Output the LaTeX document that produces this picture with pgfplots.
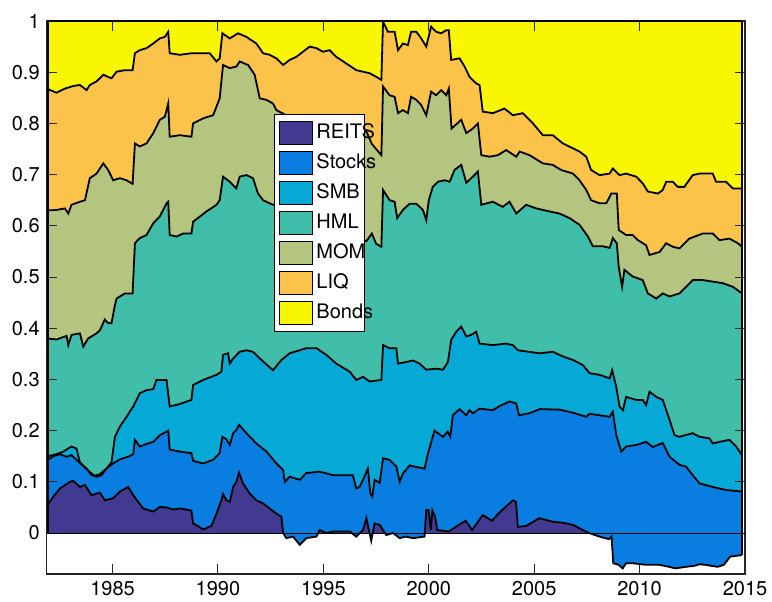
\documentclass[border=0pt]{standalone}
\usepackage{pgfplots}
\pgfplotsset{compat=1.18}
\usepgfplotslibrary{fillbetween}
\usepackage{fontspec}
\setmainfont{TeX Gyre Heros}
\definecolor{cReits}{HTML}{423A91}
\definecolor{cStocks}{HTML}{0A7EE0}
\definecolor{cSMB}{HTML}{06A9D5}
\definecolor{cHML}{HTML}{40BEA9}
\definecolor{cMOM}{HTML}{B3C57E}
\definecolor{cLIQ}{HTML}{FBC34A}
\definecolor{cBonds}{HTML}{F8F600}
\pgfplotsset{
  layers/mylayers/.define layer set={axis background,axis grid,axis ticks,axis tick labels,pre main,main,axis lines,axis descriptions,axis foreground}{},
}
\begin{document}
\begin{tikzpicture}
\begin{axis}[
  name=ax, set layers=mylayers,
  scale only axis, width=349.15pt, height=276.5pt,
  xmin=1981.875, xmax=2015, ymin=-0.08, ymax=1,
  xtick={1985,1990,1995,2000,2005,2010,2015},
  ytick={0,0.1,0.2,0.3,0.4,0.5,0.6,0.7,0.8,0.9,1},
  /pgf/number format/1000 sep={},
  /pgf/number format/assume math mode=true,
  tick label style={font=\fontsize{10}{12}\selectfont, black},
  tick align=inside, major tick length=5pt,
  tick style={black!85, line width=0.5pt},
  axis line style={black!85, line width=0.6pt},
  legend style={at={(0.3255,0.8318)}, anchor=north west, draw=black, line width=0.5pt, fill=white,
    font=\fontsize{10}{12}\selectfont, inner sep=2.5pt, row sep=1.5pt,
    nodes={inner sep=1.5pt, text height=8pt, text depth=2.5pt}},
  legend cell align=left,
  legend image code/.code={\draw[#1, draw=black, line width=0.5pt] (0pt,-5.75pt) rectangle (16.5pt,5.75pt);},
  every axis plot/.append style={forget plot},
]
\addplot[name path=c0, draw=none] coordinates {(1981.92,0) (2014.86,0)};
% REITS top
\addplot[name path=c1, black, line width=0.9pt] coordinates {
(1981.92,0.055) (1982.19,0.071) (1982.50,0.087) (1982.98,0.100) (1983.13,0.102) (1983.45,0.090) (1983.69,0.094) (1984.00,0.074) (1984.40,0.079) (1984.63,0.064) (1985.03,0.068) (1985.35,0.081) (1985.74,0.090) (1985.98,0.074) (1986.45,0.048) (1986.93,0.042) (1987.24,0.051) (1987.56,0.050) (1987.87,0.046) (1988.19,0.048) (1988.74,0.044) (1988.82,0.019) (1989.30,0.007) (1989.69,0.014) (1989.93,0.038) (1990.16,0.064) (1990.24,0.076) (1990.40,0.064) (1990.56,0.061) (1990.72,0.090) (1990.87,0.100) (1991.00,0.118) (1991.19,0.097) (1991.51,0.077) (1991.82,0.064) (1992.14,0.058) (1992.45,0.048) (1992.77,0.038) (1993.01,0.032) (1993.09,0.000) (1993.24,-0.010) (1993.56,-0.007) (1993.88,-0.023) (1994.19,-0.010) (1994.67,-0.007) (1994.82,0.006) (1995.14,0.000) (1995.46,0.003) (1996.25,0.003) (1996.56,-0.007) (1996.88,0.006) (1997.04,0.029) (1997.19,0.000) (1997.27,-0.015) (1997.43,0.019) (1997.67,0.016) (1997.98,-0.004) (1998.30,0.000) (1998.62,-0.010) (1998.90,-0.007) (1999.25,-0.010) (1999.80,-0.007) (1999.88,0.045) (1999.99,0.045) (2000.10,0.006) (2000.17,0.044) (2000.30,0.032) (2000.40,0.006) (2000.95,0.003) (2001.43,0.016) (2001.75,0.024) (2002.06,0.006) (2002.38,0.025) (2002.56,0.035) (2003.00,0.024) (2003.30,0.038) (2003.75,0.055) (2004.00,0.064) (2004.14,0.061) (2004.22,0.012) (2004.62,0.014) (2005.24,0.029) (2005.90,0.022) (2006.37,0.020) (2006.84,0.016) (2007.30,0.006) (2007.60,0.000) (2008.10,-0.007) (2008.55,-0.012) (2008.67,-0.007) (2008.75,-0.059) (2009.00,-0.062) (2009.20,-0.069) (2009.36,-0.059) (2009.67,-0.059) (2010.30,-0.062) (2010.93,-0.062) (2011.40,-0.066) (2011.70,-0.069) (2012.20,-0.066) (2012.60,-0.064) (2012.84,-0.061) (2013.10,-0.062) (2013.40,-0.064) (2013.70,-0.066) (2014.00,-0.062) (2014.30,-0.046) (2014.86,-0.043)};
% Stocks top
\addplot[name path=c2, black, line width=0.9pt] coordinates {
(1981.92,0.143) (1982.19,0.150) (1982.50,0.154) (1982.82,0.149) (1983.05,0.152) (1983.45,0.137) (1983.77,0.126) (1984.00,0.113) (1984.24,0.110) (1984.48,0.113) (1984.71,0.126) (1985.03,0.136) (1985.35,0.144) (1985.74,0.149) (1985.98,0.154) (1986.06,0.182) (1986.29,0.169) (1986.61,0.174) (1986.93,0.178) (1987.24,0.191) (1987.56,0.198) (1987.64,0.200) (1987.71,0.163) (1988.19,0.159) (1988.74,0.156) (1988.82,0.141) (1989.30,0.136) (1989.77,0.143) (1990.08,0.156) (1990.21,0.188) (1990.40,0.183) (1990.56,0.172) (1990.72,0.195) (1990.87,0.201) (1991.00,0.211) (1991.35,0.195) (1991.82,0.175) (1992.30,0.159) (1992.77,0.136) (1993.09,0.123) (1993.17,0.100) (1993.40,0.110) (1993.88,0.104) (1994.19,0.117) (1994.82,0.120) (1995.46,0.113) (1996.40,0.113) (1996.56,0.087) (1996.72,0.090) (1996.88,0.104) (1997.11,0.126) (1997.23,0.077) (1997.32,0.071) (1997.43,0.104) (1997.67,0.098) (1997.83,0.146) (1998.14,0.143) (1998.30,0.136) (1998.46,0.130) (1998.62,0.100) (1998.77,0.116) (1999.09,0.132) (1999.41,0.129) (1999.80,0.126) (1999.96,0.155) (2000.27,0.200) (2000.67,0.188) (2000.90,0.198) (2001.02,0.188) (2001.14,0.230) (2001.46,0.242) (2001.78,0.230) (2001.93,0.240) (2002.09,0.234) (2002.41,0.243) (2003.04,0.240) (2003.36,0.248) (2003.83,0.257) (2004.15,0.253) (2004.28,0.230) (2004.78,0.234) (2005.26,0.242) (2006.20,0.241) (2006.84,0.235) (2007.47,0.227) (2007.63,0.233) (2008.10,0.230) (2008.58,0.227) (2008.73,0.237) (2008.89,0.192) (2009.13,0.159) (2009.36,0.169) (2009.84,0.172) (2010.31,0.178) (2010.63,0.168) (2011.10,0.176) (2011.42,0.149) (2011.90,0.133) (2012.20,0.130) (2012.52,0.113) (2012.84,0.097) (2013.47,0.090) (2014.10,0.084) (2014.86,0.081)};
% SMB top
\addplot[name path=c3, black, line width=0.9pt] coordinates {
(1981.92,0.150) (1982.34,0.154) (1982.66,0.159) (1983.05,0.169) (1983.29,0.165) (1983.45,0.138) (1983.69,0.128) (1983.92,0.119) (1984.16,0.112) (1984.40,0.115) (1984.71,0.126) (1984.95,0.138) (1985.11,0.188) (1985.35,0.208) (1985.66,0.227) (1985.98,0.247) (1986.29,0.273) (1986.61,0.279) (1986.93,0.281) (1987.08,0.299) (1987.56,0.299) (1987.71,0.247) (1988.19,0.252) (1988.74,0.260) (1988.82,0.289) (1989.30,0.299) (1989.93,0.309) (1990.16,0.315) (1990.24,0.348) (1990.48,0.351) (1990.56,0.331) (1990.72,0.341) (1991.03,0.354) (1991.35,0.357) (1991.66,0.354) (1992.14,0.335) (1992.61,0.318) (1993.01,0.338) (1993.40,0.351) (1994.19,0.361) (1994.67,0.361) (1995.14,0.348) (1995.61,0.331) (1996.25,0.315) (1996.56,0.299) (1996.88,0.305) (1997.19,0.296) (1997.75,0.299) (1997.83,0.367) (1998.14,0.361) (1998.46,0.361) (1998.54,0.331) (1998.93,0.334) (1999.25,0.337) (1999.56,0.331) (1999.88,0.319) (2000.35,0.321) (2000.67,0.319) (2000.91,0.334) (2001.06,0.377) (2001.30,0.393) (2001.54,0.403) (2001.78,0.384) (2002.01,0.387) (2002.25,0.393) (2002.41,0.370) (2003.04,0.367) (2003.67,0.370) (2003.99,0.367) (2004.22,0.357) (2005.25,0.351) (2005.88,0.354) (2006.36,0.345) (2006.84,0.338) (2007.31,0.328) (2007.63,0.312) (2008.10,0.309) (2008.58,0.302) (2008.70,0.318) (2008.89,0.286) (2009.05,0.247) (2009.21,0.240) (2009.36,0.266) (2009.84,0.260) (2010.15,0.260) (2010.31,0.250) (2010.47,0.276) (2010.79,0.266) (2011.10,0.260) (2011.42,0.221) (2011.66,0.191) (2011.89,0.188) (2012.52,0.195) (2012.84,0.188) (2013.31,0.185) (2013.47,0.175) (2013.79,0.178) (2014.26,0.182) (2014.58,0.169) (2014.86,0.152)};
% HML top
\addplot[name path=c4, black, line width=0.9pt] coordinates {
(1981.92,0.380) (1982.34,0.378) (1982.82,0.385) (1982.90,0.367) (1983.05,0.387) (1983.45,0.390) (1983.61,0.364) (1983.84,0.380) (1984.24,0.390) (1984.40,0.396) (1984.63,0.417) (1984.79,0.410) (1984.95,0.410) (1985.11,0.445) (1985.19,0.458) (1985.58,0.468) (1985.95,0.468) (1986.06,0.566) (1986.29,0.576) (1986.61,0.582) (1986.93,0.605) (1987.24,0.618) (1987.56,0.644) (1987.64,0.647) (1987.71,0.582) (1988.03,0.579) (1988.35,0.585) (1988.74,0.585) (1988.82,0.608) (1989.14,0.618) (1989.45,0.628) (1989.93,0.641) (1990.08,0.650) (1990.24,0.696) (1990.56,0.686) (1990.87,0.673) (1991.03,0.696) (1991.35,0.699) (1991.66,0.693) (1991.90,0.663) (1992.14,0.650) (1992.45,0.644) (1993.00,0.635) (1994.00,0.620) (1995.00,0.600) (1996.00,0.580) (1996.70,0.575) (1997.04,0.570) (1997.30,0.585) (1997.50,0.565) (1997.75,0.559) (1997.83,0.670) (1998.14,0.650) (1998.38,0.647) (1998.50,0.615) (1998.77,0.631) (1999.09,0.643) (1999.41,0.643) (1999.72,0.631) (1999.88,0.611) (2000.00,0.650) (2000.19,0.676) (2000.43,0.686) (2000.75,0.689) (2000.99,0.686) (2001.22,0.709) (2001.54,0.719) (2001.78,0.684) (2002.09,0.696) (2002.33,0.706) (2002.49,0.641) (2003.04,0.647) (2003.51,0.637) (2003.83,0.647) (2004.15,0.624) (2004.62,0.641) (2005.10,0.634) (2005.73,0.628) (2006.20,0.624) (2006.68,0.615) (2007.15,0.602) (2007.55,0.579) (2007.78,0.560) (2008.26,0.560) (2008.58,0.557) (2008.73,0.576) (2008.92,0.566) (2009.01,0.520) (2009.17,0.481) (2009.28,0.514) (2009.67,0.501) (2010.15,0.494) (2010.39,0.468) (2010.79,0.458) (2011.10,0.468) (2011.42,0.462) (2011.89,0.468) (2012.52,0.494) (2013.00,0.494) (2013.47,0.491) (2013.94,0.488) (2014.42,0.481) (2014.86,0.468)};
% MOM top
\addplot[name path=c5, black, line width=0.9pt] coordinates {
(1981.92,0.630) (1982.34,0.631) (1982.74,0.634) (1982.90,0.624) (1983.05,0.641) (1983.45,0.647) (1983.69,0.650) (1983.92,0.693) (1984.24,0.702) (1984.56,0.722) (1984.79,0.709) (1985.03,0.689) (1985.35,0.693) (1985.66,0.689) (1985.95,0.682) (1986.06,0.761) (1986.29,0.755) (1986.61,0.761) (1986.93,0.781) (1987.24,0.807) (1987.48,0.813) (1987.64,0.839) (1987.71,0.774) (1988.19,0.777) (1988.74,0.774) (1988.82,0.800) (1989.30,0.810) (1989.77,0.816) (1990.08,0.849) (1990.24,0.914) (1990.56,0.908) (1990.87,0.911) (1991.03,0.921) (1991.43,0.914) (1991.74,0.895) (1991.98,0.849) (1992.30,0.846) (1992.61,0.839) (1992.77,0.826) (1993.50,0.810) (1994.50,0.800) (1995.50,0.790) (1996.50,0.780) (1997.04,0.784) (1997.30,0.760) (1997.50,0.750) (1997.75,0.738) (1997.83,0.872) (1998.14,0.855) (1998.38,0.852) (1998.54,0.820) (1998.77,0.826) (1999.01,0.820) (1999.16,0.852) (1999.41,0.846) (1999.64,0.836) (1999.88,0.816) (2000.11,0.862) (2000.35,0.855) (2000.59,0.865) (2000.83,0.855) (2000.95,0.868) (2001.08,0.790) (2001.54,0.807) (2001.78,0.781) (2002.09,0.790) (2002.33,0.800) (2002.49,0.738) (2002.88,0.735) (2003.28,0.738) (2003.67,0.748) (2004.15,0.735) (2004.31,0.745) (2004.78,0.738) (2005.41,0.722) (2005.88,0.719) (2006.28,0.709) (2006.84,0.702) (2007.15,0.689) (2007.47,0.670) (2007.70,0.650) (2008.10,0.644) (2008.42,0.644) (2008.66,0.663) (2008.92,0.663) (2009.01,0.592) (2009.36,0.582) (2009.67,0.582) (2009.92,0.572) (2010.31,0.562) (2010.47,0.543) (2010.95,0.549) (2011.26,0.566) (2011.58,0.559) (2011.89,0.556) (2012.36,0.575) (2013.00,0.585) (2013.47,0.585) (2013.79,0.572) (2014.26,0.575) (2014.66,0.566) (2014.86,0.559)};
% LIQ top
\addplot[name path=c6, black, line width=0.9pt] coordinates {
(1981.92,0.867) (1982.34,0.860) (1982.74,0.868) (1983.13,0.873) (1983.45,0.875) (1983.77,0.865) (1983.92,0.875) (1984.24,0.882) (1984.56,0.895) (1984.95,0.888) (1985.19,0.901) (1985.58,0.904) (1985.95,0.904) (1986.06,0.937) (1986.29,0.943) (1986.61,0.947) (1986.93,0.956) (1987.24,0.966) (1987.48,0.969) (1987.64,0.979) (1987.71,0.937) (1988.19,0.934) (1988.74,0.937) (1989.14,0.937) (1989.61,0.937) (1989.93,0.921) (1990.08,0.927) (1990.21,0.976) (1990.56,0.966) (1990.95,0.976) (1991.35,0.969) (1991.82,0.956) (1992.14,0.937) (1992.45,0.934) (1992.77,0.927) (1993.09,0.914) (1993.40,0.924) (1993.72,0.930) (1994.03,0.940) (1994.35,0.950) (1994.67,0.947) (1994.98,0.940) (1995.30,0.943) (1995.61,0.930) (1996.09,0.917) (1996.56,0.904) (1996.88,0.901) (1997.19,0.898) (1997.51,0.891) (1997.75,0.885) (1997.83,0.999) (1998.06,0.979) (1998.38,0.979) (1998.54,0.943) (1998.77,0.956) (1999.01,0.953) (1999.16,0.979) (1999.41,0.979) (1999.64,0.966) (1999.88,0.950) (2000.11,0.989) (2000.35,0.979) (2000.59,0.976) (2000.83,0.982) (2000.95,0.982) (2001.06,0.924) (2001.46,0.927) (2001.70,0.911) (2001.93,0.891) (2002.25,0.878) (2002.41,0.875) (2002.56,0.823) (2003.04,0.820) (2003.59,0.829) (2003.99,0.816) (2004.46,0.820) (2004.94,0.800) (2005.41,0.777) (2005.88,0.777) (2006.36,0.761) (2007.15,0.745) (2007.47,0.735) (2007.70,0.709) (2008.10,0.699) (2008.58,0.702) (2008.73,0.712) (2009.05,0.699) (2009.36,0.702) (2009.84,0.696) (2010.15,0.683) (2010.39,0.667) (2010.87,0.663) (2011.10,0.670) (2011.26,0.686) (2011.58,0.686) (2011.81,0.676) (2012.12,0.676) (2012.52,0.699) (2012.84,0.702) (2013.47,0.702) (2013.63,0.686) (2014.10,0.686) (2014.42,0.673) (2014.86,0.673)};
\addplot[name path=c7, black, line width=0.9pt] coordinates {(1981.92,1) (2014.86,1)};
% fills
\addplot[fill=cReits, draw=none] fill between[of=c0 and c1];
\addplot[fill=cStocks, draw=none] fill between[of=c1 and c2];
\addplot[fill=cSMB, draw=none] fill between[of=c2 and c3];
\addplot[fill=cHML, draw=none] fill between[of=c3 and c4];
\addplot[fill=cMOM, draw=none] fill between[of=c4 and c5];
\addplot[fill=cLIQ, draw=none] fill between[of=c5 and c6];
\addplot[fill=cBonds, draw=none] fill between[of=c6 and c7];
% edges and baseline
\addplot[black, line width=0.9pt] coordinates {(1981.92,0) (1981.92,1)};
\addplot[black, line width=0.9pt] coordinates {(2014.86,-0.043) (2014.86,1)};
\addplot[black, line width=0.5pt] coordinates {(1981.875,0) (2015,0)};
% legend
\addlegendimage{fill=cReits}\addlegendentry{\makebox[20pt][l]{REITS}}
\addlegendimage{fill=cStocks}\addlegendentry{\makebox[20pt][l]{Stocks}}
\addlegendimage{fill=cSMB}\addlegendentry{\makebox[20pt][l]{SMB}}
\addlegendimage{fill=cHML}\addlegendentry{\makebox[20pt][l]{HML}}
\addlegendimage{fill=cMOM}\addlegendentry{\makebox[20pt][l]{MOM}}
\addlegendimage{fill=cLIQ}\addlegendentry{\makebox[20pt][l]{LIQ}}
\addlegendimage{fill=cBonds}\addlegendentry{\makebox[20pt][l]{Bonds}}
\end{axis}
\pgfresetboundingbox
\path ([shift={(-23.35pt,-13.5pt)}]ax.south west) rectangle ([shift={(13.5pt,10.5pt)}]ax.north east);
\end{tikzpicture}
\end{document}
